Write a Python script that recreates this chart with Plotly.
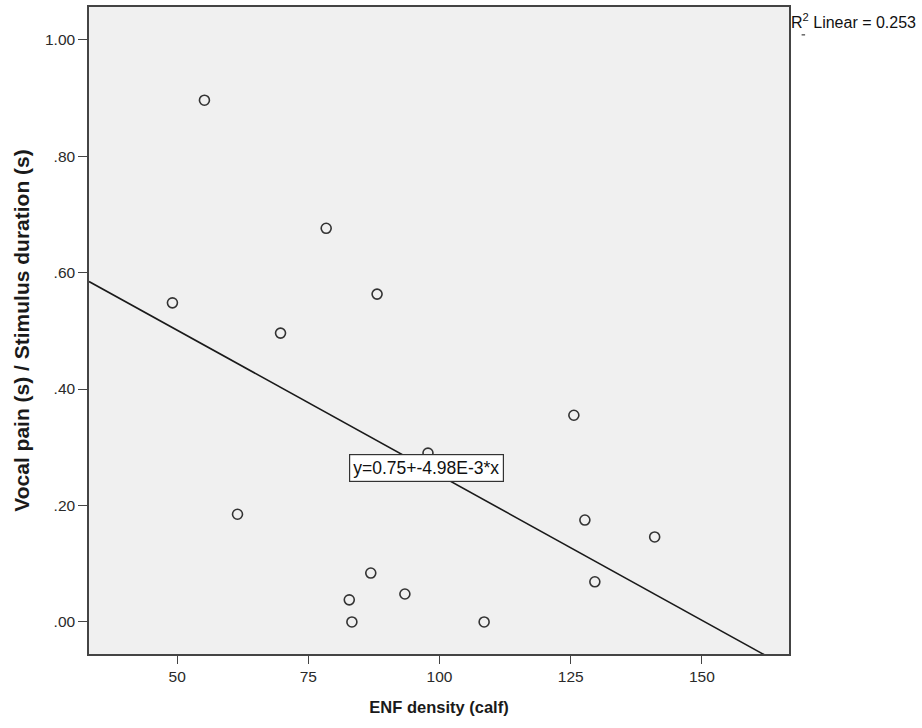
import plotly.graph_objects as go

# ENF density (calf) vs. vocal pain / stimulus duration
enf_density = [55.2, 49.1, 61.5, 69.7, 78.4, 88.1, 82.8, 83.3, 86.9, 93.4,
               97.8, 108.5, 125.6, 127.7, 129.6, 141.0]
pain_ratio = [0.896, 0.548, 0.185, 0.496, 0.676, 0.563, 0.038, 0.000, 0.084, 0.048,
              0.290, 0.000, 0.355, 0.175, 0.069, 0.146]

# Linear fit reported by the analysis
intercept = 0.75
slope = -4.98e-3
r_squared = 0.253

x_ticks = [50, 75, 100, 125, 150]
y_ticks = [0.0, 0.2, 0.4, 0.6, 0.8, 1.0]
y_tick_text = [".00", ".20", ".40", ".60", ".80", "1.00"]

x_range = [33.2, 166.6]
y_range = [-0.055, 1.056]

font_family = "Arial, Liberation Sans, sans-serif"
axis_color = "#444444"

fig = go.Figure()

fit_x = [x_range[0], x_range[1]]
fit_y = [intercept + slope * v for v in fit_x]
fig.add_trace(go.Scatter(
    x=fit_x, y=fit_y, mode="lines",
    line=dict(color="#1a1a1a", width=1.6),
    hoverinfo="skip", showlegend=False,
))

fig.add_trace(go.Scatter(
    x=enf_density, y=pain_ratio, mode="markers",
    marker=dict(symbol="circle-open", size=10, color="#333333",
                line=dict(width=1.6, color="#333333")),
    showlegend=False,
))

# Equation label placed on the fit line
fig.add_annotation(
    x=97.5, y=0.265, xref="x", yref="y",
    text=f"y={intercept:.2f}+{slope*1000:.2f}E-3*x",
    showarrow=False,
    font=dict(family=font_family, size=17.5, color="#111111"),
    bgcolor="white", bordercolor="#333333", borderwidth=1.2, borderpad=3,
)

fig.add_annotation(
    x=1.0, y=0.978, xref="paper", yref="paper",
    xanchor="left", yanchor="middle", xshift=0,
    text=f"R<sup>2</sup> Linear = {r_squared:.3f}",
    showarrow=False,
    font=dict(family=font_family, size=16, color="#111111"),
)

fig.add_shape(
    type="line", xref="paper", yref="paper",
    x0=1.018, x1=1.023, y0=0.957, y1=0.957,
    line=dict(color="#666666", width=1.5),
)

fig.update_layout(
    width=922, height=728,
    margin=dict(l=88.5, r=132.5, t=7, b=74, autoexpand=False),
    paper_bgcolor="white",
    plot_bgcolor="#f0f0f0",
    font=dict(family=font_family, color="#222222"),
    xaxis=dict(
        range=x_range, tickvals=x_ticks, ticks="outside", ticklen=8,
        tickcolor=axis_color, tickwidth=1.3,
        showline=True, linecolor=axis_color, linewidth=1.5, mirror=True,
        showgrid=False, zeroline=False,
        tickfont=dict(size=15.5, color="#2a2a2a"),
        title=dict(text="<b>ENF density (calf)</b>", standoff=17,
                   font=dict(size=16.5, color="#1a1a1a")),
    ),
    yaxis=dict(
        range=y_range, tickvals=y_ticks, ticktext=y_tick_text,
        ticks="outside", ticklen=9, tickcolor=axis_color, tickwidth=1.3,
        showline=True, linecolor=axis_color, linewidth=1.5, mirror=True,
        showgrid=False, zeroline=False,
        tickfont=dict(size=15.5, color="#2a2a2a"),
        title=dict(text="<b>Vocal pain (s) / Stimulus duration (s)</b>", standoff=10,
                   font=dict(size=21, color="#1a1a1a")),
    ),
)

fig.write_html("out.html")
